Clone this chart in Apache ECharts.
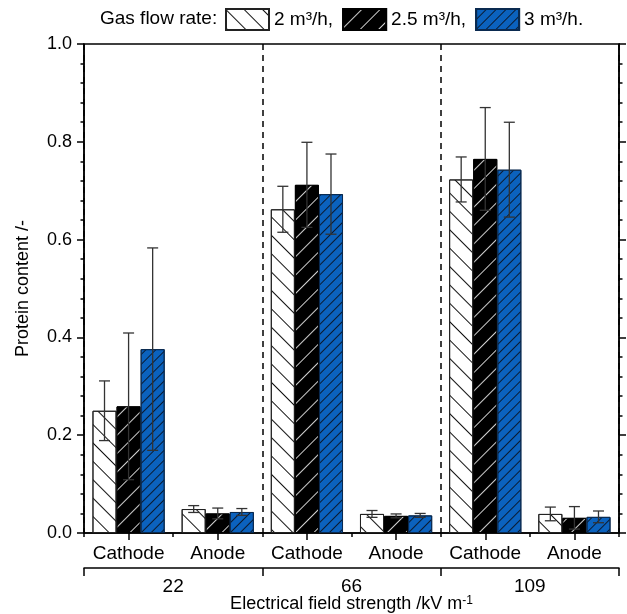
<!DOCTYPE html>
<html>
<head>
<meta charset="utf-8">
<script src="https://cdn.jsdelivr.net/npm/echarts@6/dist/echarts.min.js"></script>
<style>
html,body{margin:0;padding:0;background:#fff;}
#main{width:627px;height:614px;}
</style>
</head>
<body>
<div id="main"></div>
<script>
// ---- data ----
const categories = ['Cathode', 'Anode', 'Cathode', 'Anode', 'Cathode', 'Anode'];
const fieldStrengths = ['22', '66', '109'];
const seriesNames = ['2 m³/h', '2.5 m³/h', '3 m³/h'];
const flow2 = [0.250, 0.049, 0.662, 0.039, 0.723, 0.039];
const flow2Err = [0.061, 0.007, 0.047, 0.007, 0.046, 0.014];
const flow25 = [0.259, 0.040, 0.712, 0.035, 0.765, 0.031];
const flow25Err = [0.150, 0.011, 0.087, 0.004, 0.105, 0.023];
const flow3 = [0.376, 0.043, 0.693, 0.036, 0.743, 0.033];
const flow3Err = [0.207, 0.007, 0.082, 0.004, 0.097, 0.012];
const yTicks = [0, 0.2, 0.4, 0.6, 0.8, 1.0];

const FONT = "'Liberation Sans', Arial, sans-serif";
const CAT_GAP = 0.19;
const values = [flow2, flow25, flow3];
const errs = [flow2Err, flow25Err, flow3Err];

const styles = [
  { color: '#ffffff', borderColor: '#222', decal: { symbol: 'rect', symbolSize: 1, color: '#111', dashArrayX: [1, 0], dashArrayY: [1, 11.5], rotation: Math.PI / 4 } },
  { color: '#000000', borderColor: '#000', decal: { symbol: 'rect', symbolSize: 1, color: '#cfcfcf', dashArrayX: [1, 0], dashArrayY: [1, 11.5], rotation: -Math.PI / 4 } },
  { color: '#0b62be', borderColor: '#0a2a50', decal: { symbol: 'rect', symbolSize: 1, color: '#0a1a30', dashArrayX: [1, 0], dashArrayY: [1, 5.5], rotation: -Math.PI / 4 } }
];

const barSeries = seriesNames.map((n, i) => ({
  name: n,
  type: 'bar',
  xAxisIndex: 0,
  yAxisIndex: 0,
  data: values[i],
  barGap: '0%',
  barCategoryGap: (CAT_GAP * 100) + '%',
  itemStyle: {
    color: styles[i].color,
    borderColor: styles[i].borderColor,
    borderWidth: 1,
    decal: styles[i].decal
  },
  emphasis: { disabled: true },
  z: 2
}));

const errSeries = seriesNames.map((n, i) => ({
  name: n + ' err',
  type: 'custom',
  xAxisIndex: 0,
  yAxisIndex: 0,
  data: values[i].map((v, k) => [k, v, errs[i][k]]),
  encode: { x: 0, y: 1 },
  z: 5,
  silent: true,
  renderItem: function (params, api) {
    const idx = api.value(0);
    const v = api.value(1);
    const e = api.value(2);
    const band = api.size([1, 0])[0];
    const barW = band * (1 - CAT_GAP) / 3;
    const off = (i - 1) * barW;
    const top = api.coord([idx, v + e]);
    const bot = api.coord([idx, v - e]);
    const x = top[0] + off;
    const cap = 5.5;
    const st = { stroke: '#333', lineWidth: 1.3 };
    return {
      type: 'group',
      children: [
        { type: 'line', shape: { x1: x, y1: top[1], x2: x, y2: bot[1] }, style: st },
        { type: 'line', shape: { x1: x - cap, y1: top[1], x2: x + cap, y2: top[1] }, style: st },
        { type: 'line', shape: { x1: x - cap, y1: bot[1], x2: x + cap, y2: bot[1] }, style: st }
      ]
    };
  }
}));

const axisLine = { show: true, lineStyle: { color: '#000', width: 1.5 } };

const option = {
  animation: false,
  backgroundColor: '#fff',
  textStyle: { fontFamily: FONT },
  title: {
    text: 'Gas flow rate:',
    left: 95,
    top: 4,
    textStyle: { fontFamily: FONT, fontSize: 19, fontWeight: 'normal', color: '#000' }
  },
  legend: {
    left: 220,
    top: 3,
    icon: 'rect',
    itemWidth: 43,
    itemHeight: 21,
    itemGap: 9,
    data: seriesNames,
    selectedMode: false,
    formatter: function (name) { return name + (name === seriesNames[seriesNames.length - 1] ? '.' : ','); },
    textStyle: { fontFamily: FONT, fontSize: 19, color: '#000' }
  },
  grid: {
    left: 84, right: 8, top: 44, bottom: 81,
    show: true, borderColor: '#000', borderWidth: 1.5,
    containLabel: false,
    outerBoundsMode: 'none'
  },
  xAxis: [
    {
      type: 'category', data: categories, position: 'bottom',
      axisLine: axisLine,
      axisTick: { show: true, alignWithLabel: true, length: 7, lineStyle: { color: '#000', width: 1.5 } },
      axisLabel: { interval: 0, fontSize: 19, color: '#000', margin: 11, fontFamily: FONT },
      splitLine: { show: false }
    },
    {
      type: 'category', data: categories, position: 'bottom',
      axisLine: { show: false },
      axisTick: { show: true, length: 4, lineStyle: { color: '#000', width: 1.5 } },
      axisLabel: { show: false },
      splitLine: { show: false }
    },
    {
      type: 'category', data: fieldStrengths, position: 'bottom', offset: 35,
      axisLine: axisLine,
      axisTick: { show: true, length: 8, lineStyle: { color: '#000', width: 1.5 } },
      axisLabel: { interval: 0, fontSize: 19, color: '#000', margin: 9, fontFamily: FONT },
      splitLine: { show: true, interval: 0, lineStyle: { color: '#000', width: 1.5, type: [6, 5] } },
      name: 'Electrical field strength /kV m{sup|-1}',
      nameLocation: 'middle',
      nameGap: 27,
      nameMoveOverlap: false,
      nameTextStyle: {
        fontSize: 18, color: '#000', fontFamily: FONT,
        rich: { sup: { fontSize: 12, verticalAlign: 'top', color: '#000', fontFamily: FONT } }
      }
    }
  ],
  yAxis: [
    {
      type: 'value', min: 0, max: 1, interval: 0.2, position: 'left',
      axisLine: axisLine,
      axisTick: { show: true, length: 7, lineStyle: { color: '#000', width: 1.5 } },
      minorTick: { show: true, splitNumber: 5, length: 3.5, lineStyle: { color: '#000', width: 1.5 } },
      splitLine: { show: false },
      axisLabel: { fontSize: 18, color: '#000', margin: 12, fontFamily: FONT, formatter: v => v.toFixed(1), customValues: yTicks },
      name: 'Protein content /-',
      nameLocation: 'middle',
      nameGap: 52,
      nameMoveOverlap: false,
      nameTextStyle: { fontSize: 18, color: '#000', fontFamily: FONT }
    },
    {
      type: 'value', min: 0, max: 1, interval: 0.2, position: 'right',
      axisLine: axisLine,
      axisTick: { show: true, length: 7, lineStyle: { color: '#000', width: 1.5 } },
      minorTick: { show: true, splitNumber: 5, length: 3.5, lineStyle: { color: '#000', width: 1.5 } },
      splitLine: { show: false },
      axisLabel: { show: false }
    }
  ],
  series: barSeries.concat(errSeries)
};

const chart = echarts.init(document.getElementById('main'), null, { renderer: 'canvas' });
chart.setOption(option);
</script>
</body>
</html>
